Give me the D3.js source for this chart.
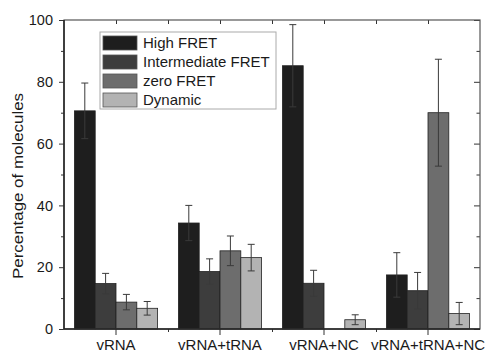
<!DOCTYPE html>
<html>
<head>
<meta charset="utf-8">
<script src="https://cdn.jsdelivr.net/npm/d3@7"></script>
<style>
  body { margin: 0; background: #fff; }
  text { font-family: Arial, "Liberation Sans", sans-serif; fill: #1a1a1a; }
</style>
</head>
<body>
<div class="plot"></div>
<script>
// chart data
var groups = ["vRNA", "vRNA+tRNA", "vRNA+NC", "vRNA+tRNA+NC"];
var series = ["High FRET", "Intermediate FRET", "zero FRET", "Dynamic"];
var colors = ["#1e1e1e", "#3d3d3d", "#6d6d6d", "#b3b3b3"];
// values per series, one entry per group
var highFret = [70.6, 34.3, 85.2, 17.5];
var intermediateFret = [14.7, 18.6, 14.8, 12.4];
var zeroFret = [8.7, 25.3, 0, 70.0];
var dynamic = [6.7, 23.1, 3.0, 5.0];
// error bar half-lengths
var highErr = [9.0, 5.7, 13.3, 7.2];
var intermediateErr = [3.3, 4.1, 4.2, 5.9];
var zeroErr = [2.5, 4.8, 0, 17.3];
var dynamicErr = [2.2, 4.3, 1.6, 3.6];
var yTicks = [0, 20, 40, 60, 80, 100];
var yMinor = [10, 30, 50, 70, 90];

var values = [highFret, intermediateFret, zeroFret, dynamic];
var errors = [highErr, intermediateErr, zeroErr, dynamicErr];

var margin = { top: 20, right: 15, bottom: 24, left: 64 },
  width = 495 - margin.left - margin.right,
  height = 353 - margin.top - margin.bottom;

var svg = d3.select(".plot")
  .append("svg")
  .attr("width", width + margin.left + margin.right)
  .attr("height", height + margin.top + margin.bottom)
  .append("g")
  .attr("transform", "translate(" + margin.left + "," + margin.top + ")");

// scales
var x0 = d3.scaleBand()
  .domain(groups)
  .range([0, width])
  .paddingInner(0.2)
  .paddingOuter(0.1);

var x1 = d3.scaleBand()
  .domain(series)
  .range([0, x0.bandwidth()]);

var y = d3.scaleLinear()
  .domain([0, 100])
  .range([height, 0]);

// boundaries between groups for the minor ticks
var step = x0.step();
var boundaries = d3.range(1, groups.length).map(function (i) { return i * step; });
var centers = groups.map(function (g) { return x0(g) + x0.bandwidth() / 2; });

// build the flat table of bars
var table = [];
series.forEach(function (s, si) {
  groups.forEach(function (g, gi) {
    table.push({ group: g, series: s, si: si, value: values[si][gi], err: errors[si][gi] });
  });
});

// bars
svg.selectAll("rect.bar")
  .data(table.filter(function (d) { return d.value > 0; }))
  .enter()
  .append("rect")
  .attr("class", "bar")
  .attr("x", function (d) { return x0(d.group) + x1(d.series); })
  .attr("y", function (d) { return y(d.value); })
  .attr("width", x1.bandwidth())
  .attr("height", function (d) { return y(0) - y(d.value); })
  .style("fill", function (d) { return colors[d.si]; })
  .style("stroke", "#222")
  .style("stroke-width", 0.8);

// error bars
var eb = svg.selectAll("g.err")
  .data(table.filter(function (d) { return d.err > 0; }))
  .enter()
  .append("g")
  .attr("class", "err")
  .attr("transform", function (d) {
    return "translate(" + (x0(d.group) + x1(d.series) + x1.bandwidth() / 2) + ",0)";
  })
  .style("stroke", "#3a3a3a")
  .style("stroke-width", 1);

eb.append("line")
  .attr("x1", 0).attr("x2", 0)
  .attr("y1", function (d) { return y(d.value + d.err); })
  .attr("y2", function (d) { return y(Math.max(0, d.value - d.err)); });
eb.append("line")
  .attr("x1", -3.5).attr("x2", 3.5)
  .attr("y1", function (d) { return y(d.value + d.err); })
  .attr("y2", function (d) { return y(d.value + d.err); });
eb.append("line")
  .attr("x1", -3.5).attr("x2", 3.5)
  .attr("y1", function (d) { return y(Math.max(0, d.value - d.err)); })
  .attr("y2", function (d) { return y(Math.max(0, d.value - d.err)); });

// left axis
var left = svg.append("g")
  .call(d3.axisLeft(y).tickValues(yTicks).tickSize(5).tickPadding(6));
left.selectAll("text").style("font-size", "14.5px");
svg.append("g")
  .call(d3.axisLeft(y).tickValues(yMinor).tickSize(3).tickFormat(""));

// right axis, ticks pointing inwards
svg.append("g")
  .attr("transform", "translate(" + width + ",0)")
  .call(d3.axisLeft(y).tickValues(yTicks).tickSize(6).tickFormat(""));
svg.append("g")
  .attr("transform", "translate(" + width + ",0)")
  .call(d3.axisLeft(y).tickValues(yMinor).tickSize(3.5).tickFormat(""));

// top axis, ticks pointing inwards
var xs = d3.scaleLinear().domain([0, width]).range([0, width]);
svg.append("g")
  .call(d3.axisBottom(xs).tickValues(centers.concat(boundaries)).tickSize(4).tickFormat(""));

// bottom axis
var bottom = svg.append("g")
  .attr("transform", "translate(0," + height + ")")
  .call(d3.axisBottom(x0).tickSize(6).tickPadding(4));
bottom.selectAll("text").style("font-size", "15px");
svg.append("g")
  .attr("transform", "translate(0," + height + ")")
  .call(d3.axisBottom(xs).tickValues(boundaries).tickSize(3).tickFormat(""));

svg.selectAll(".domain").remove();
svg.selectAll(".tick line").style("stroke", "#333");

// frame
svg.append("rect")
  .attr("x", 0).attr("y", 0)
  .attr("width", width).attr("height", height)
  .style("fill", "none")
  .style("stroke", "#555")
  .style("stroke-width", 1.2);
svg.append("line")
  .attr("x1", 0).attr("x2", 0).attr("y1", 0).attr("y2", height)
  .style("stroke", "#222").style("stroke-width", 1.5);
svg.append("line")
  .attr("x1", 0).attr("x2", width).attr("y1", height).attr("y2", height)
  .style("stroke", "#222").style("stroke-width", 1.5);

// y-axis label
svg.append("text")
  .attr("transform", "rotate(-90)")
  .attr("x", -(186 - margin.top))
  .attr("y", -41)
  .style("text-anchor", "middle")
  .style("font-size", "15px")
  .attr("textLength", 186)
  .attr("lengthAdjust", "spacingAndGlyphs")
  .text("Percentage of molecules");

// legend
var legend = svg.append("g")
  .attr("transform", "translate(" + (100 - margin.left) + "," + (32 - margin.top) + ")");
legend.append("rect")
  .attr("width", 176).attr("height", 77)
  .style("fill", "#fff")
  .style("stroke", "#aaa")
  .style("stroke-width", 1);
var items = legend.selectAll("g.item")
  .data(series)
  .enter()
  .append("g")
  .attr("class", "item")
  .attr("transform", function (d, i) { return "translate(3," + (4 + i * 19) + ")"; });
items.append("rect")
  .attr("width", 34).attr("height", 14)
  .style("fill", function (d, i) { return colors[i]; })
  .style("stroke", "#555")
  .style("stroke-width", 0.8);
items.append("text")
  .attr("x", 40).attr("y", 12)
  .style("font-size", "15px")
  .text(function (d) { return d; });
</script>
</body>
</html>
